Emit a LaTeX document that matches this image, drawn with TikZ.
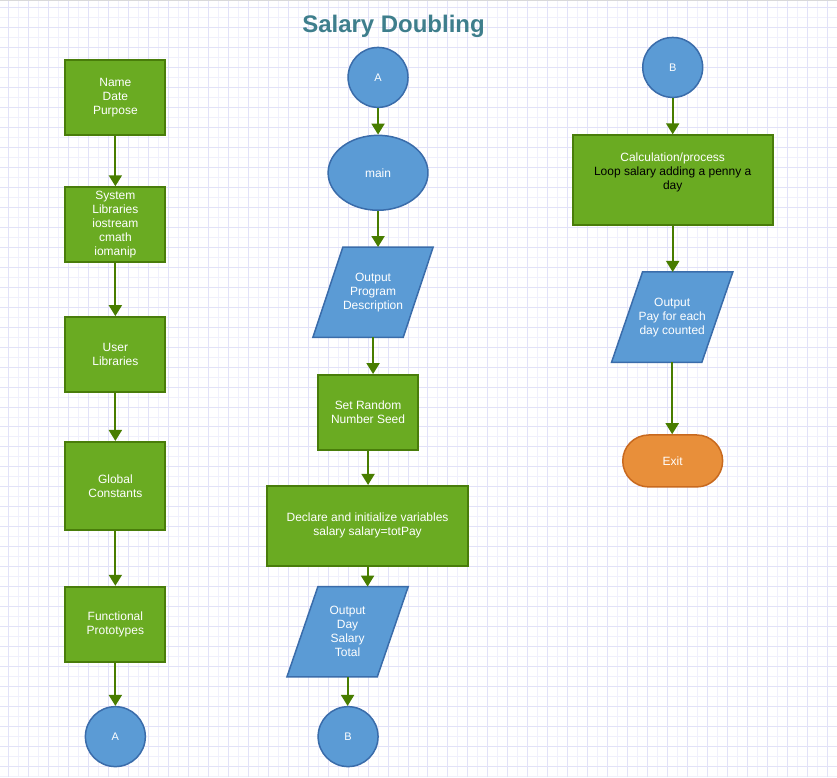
\documentclass[tikz,border=0pt]{standalone}
\usepackage{fontspec}
\setmainfont{Liberation Sans}
\usetikzlibrary{arrows.meta,shapes.geometric,calc}
\definecolor{gfill}{RGB}{106,171,34}
\definecolor{gline}{RGB}{73,125,10}
\definecolor{bfill}{RGB}{91,155,213}
\definecolor{bline}{RGB}{58,108,170}
\definecolor{ofill}{RGB}{232,143,58}
\definecolor{oline}{RGB}{200,105,30}
\definecolor{arrc}{RGB}{72,125,0}
\definecolor{gridA}{RGB}{240,240,252}
\definecolor{gridB}{RGB}{226,226,248}
\definecolor{titlec}{RGB}{62,126,140}
\tikzset{
  txt/.style={text=white, align=center, font={\fontsize{12pt}{14pt}\selectfont}, inner sep=0pt},
  gbox/.style={txt, rectangle, draw=gline, fill=gfill, line width=2pt, minimum width=100pt},
  bcirc/.style={txt, circle, draw=bline, fill=bfill, line width=1.5pt, minimum size=60pt, font={\fontsize{11pt}{13pt}\selectfont}},
  bell/.style={txt, ellipse, draw=bline, fill=bfill, line width=1.5pt, minimum width=100pt, minimum height=75pt},
  pbox/.style={txt, rectangle, minimum height=90pt},
  pshape/.style={draw=bline, fill=bfill, line width=1.5pt, line join=miter},
  obox/.style={txt, rectangle, rounded corners=26pt, draw=oline, fill=ofill, line width=1.5pt, minimum width=100pt, minimum height=52pt},
  arr/.style={draw=arrc, line width=2pt, -{Triangle[width=13pt,length=11pt]}},
}
\newcommand{\drawpara}[2]{%
  \begin{pgfonlayer}{background}
  \draw[pshape] ([xshift=#2pt]#1.north west) -- (#1.north east) -- ([xshift=-#2pt]#1.south east) -- (#1.south west) -- cycle;
  \end{pgfonlayer}}
\pgfdeclarelayer{background}
\pgfdeclarelayer{grid}
\pgfsetlayers{grid,background,main}
\begin{document}
\begin{tikzpicture}[x=1pt,y=-1pt]
\begin{pgfonlayer}{grid}
\fill[white] (0,0) rectangle (837,777);
\foreach \x in {8,18,...,836} \draw[gridA, line width=1pt] (\x,0) -- (\x,777);
\foreach \y in {7,17,...,777} \draw[gridA, line width=1pt] (0,\y) -- (837,\y);
\foreach \x in {8,28,...,836} \draw[gridB, line width=1pt] (\x,0) -- (\x,777);
\foreach \y in {7,27,...,777} \draw[gridB, line width=1pt] (0,\y) -- (837,\y);
\draw[black!15, line width=1pt] (0,0.5) -- (837,0.5);
\end{pgfonlayer}
\useasboundingbox (0,0) rectangle (837,777);

\node[anchor=base, text=titlec, font={\bfseries\fontsize{24pt}{28pt}\selectfont}, inner sep=0pt] (title) at (393.5,32) {Salary Doubling};

% left column
\node[gbox, minimum height=75pt] (n1) at (115,97.5) {Name\\Date\\Purpose};
\node[gbox, minimum height=75pt] (n2) at (115,224.5) {System\\Libraries\\iostream\\cmath\\iomanip};
\node[gbox, minimum height=75pt] (n3) at (115,354.5) {User\\Libraries};
\node[gbox, minimum height=88pt] (n4) at (115,486) {Global\\Constants};
\node[gbox, minimum height=75pt] (n5) at (115,624.5) {Functional\\Prototypes};
\node[bcirc] (a1) at (115,737) {A};

% middle column
\node[bcirc] (a2) at (378,77) {A};
\node[bell] (mn) at (378,172.5) {main};
\node[pbox, minimum width=120pt] (p1) at (373,292) {Output\\Program\\Description};
\drawpara{p1}{30}
\node[gbox, minimum height=75pt] (sr) at (368,412.5) {Set Random\\Number Seed};
\node[gbox, minimum width=201pt, minimum height=80pt] (dc) at (367.5,526) {Declare and initialize variables\\salary salary=totPay};
\node[pbox, minimum width=121pt] (p2) at (347.5,632) {Output\\Day\\Salary\\Total};
\drawpara{p2}{31}
\node[bcirc] (b1) at (348,737) {B};

% right column
\node[bcirc] (b2) at (673,67) {B};
\node[gbox, minimum width=200pt, minimum height=90pt] (cl) at (673,180) {Calculation/process\\\textcolor{black}{Loop salary adding a penny a}\\\textcolor{black}{day}\\\strut};
\node[pbox, minimum width=121pt] (p3) at (672.5,317) {Output\\Pay for each\\day counted};
\drawpara{p3}{31}
\node[obox] (ex) at (673,461) {Exit};

% connectors
\draw[arr] (n1.south) -- (n2.north);
\draw[arr] (n2.south) -- (n3.north);
\draw[arr] (n3.south) -- (n4.north);
\draw[arr] (n4.south) -- (n5.north);
\draw[arr] (n5.south) -- (a1.north);

\draw[arr] (a2.south) -- (mn.north);
\draw[arr] (mn.south) -- (mn.south |- p1.north);
\draw[arr] (p1.south) -- (p1.south |- sr.north);
\draw[arr] (sr.south) -- (sr.south |- dc.north);
\draw[arr] (dc.south) -- (dc.south |- p2.north);
\draw[arr] (p2.south) -- (p2.south |- b1.north);

\draw[arr] (b2.south) -- (b2.south |- cl.north);
\draw[arr] (cl.south) -- (cl.south |- p3.north);
\draw[arr] (p3.south) -- (p3.south |- ex.north);
\end{tikzpicture}
\end{document}
